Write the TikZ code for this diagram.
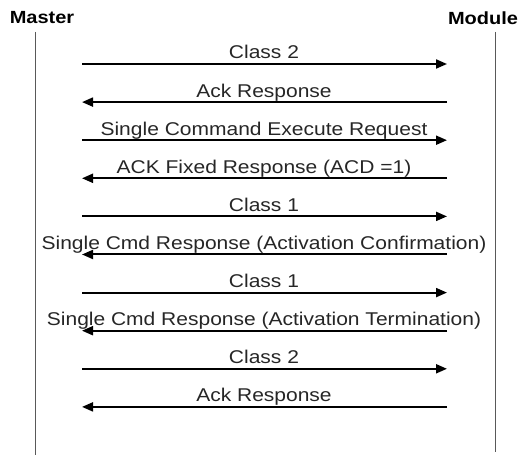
\documentclass[tikz,border=0pt]{standalone}
\usepackage{fontspec}
\setmainfont{Liberation Sans}
\usetikzlibrary{arrows.meta}
\tikzset{>={Triangle[length=11pt,width=9pt]},msg/.style={line width=2pt,->},life/.style={black!65,line width=1.1pt},
lbl/.style={anchor=base,inner sep=0pt,text=black!85,font=\fontsize{21}{24}\selectfont,yscale=.88,transform shape},
hdr/.style={inner sep=0pt,font=\bfseries\fontsize{20}{24}\selectfont,yscale=.88,transform shape}}

\begin{document}
\begin{tikzpicture}[x=1pt,y=1pt]
\useasboundingbox (0,0) rectangle (522,455);
\node[hdr] (master) at (42,437) {Master};
\node[hdr] (module) at (483,437) {Module};
\coordinate (mtop) at (35.5,423);\coordinate (mbot) at (35.5,0);
\coordinate (dtop) at (495.5,423);\coordinate (dbot) at (495.5,3);
\draw[life] (mtop)--(mbot);\draw[life] (dtop)--(dbot);
% messages, a = master side, b = module side
\foreach \i/\s/\e/\t in {1/a/b/Class 2,2/b/a/Ack Response,3/a/b/Single Command Execute Request,4/b/a/ACK Fixed Response (ACD =1),5/a/b/Class 1,6/b/a/Single Cmd Response (Activation Confirmation),7/a/b/Class 1,8/b/a/Single Cmd Response (Activation Termination),9/a/b/Class 2,10/b/a/Ack Response}{
\coordinate (a\i) at (82,{391-38.1*(\i-1)});\coordinate (b\i) at (447,{391-38.1*(\i-1)});
\node[lbl] (t\i) at (264,{396-38.1*(\i-1)}) {\t};
\draw[msg] (\s\i)--(\e\i);
}
\end{tikzpicture}
\end{document}
